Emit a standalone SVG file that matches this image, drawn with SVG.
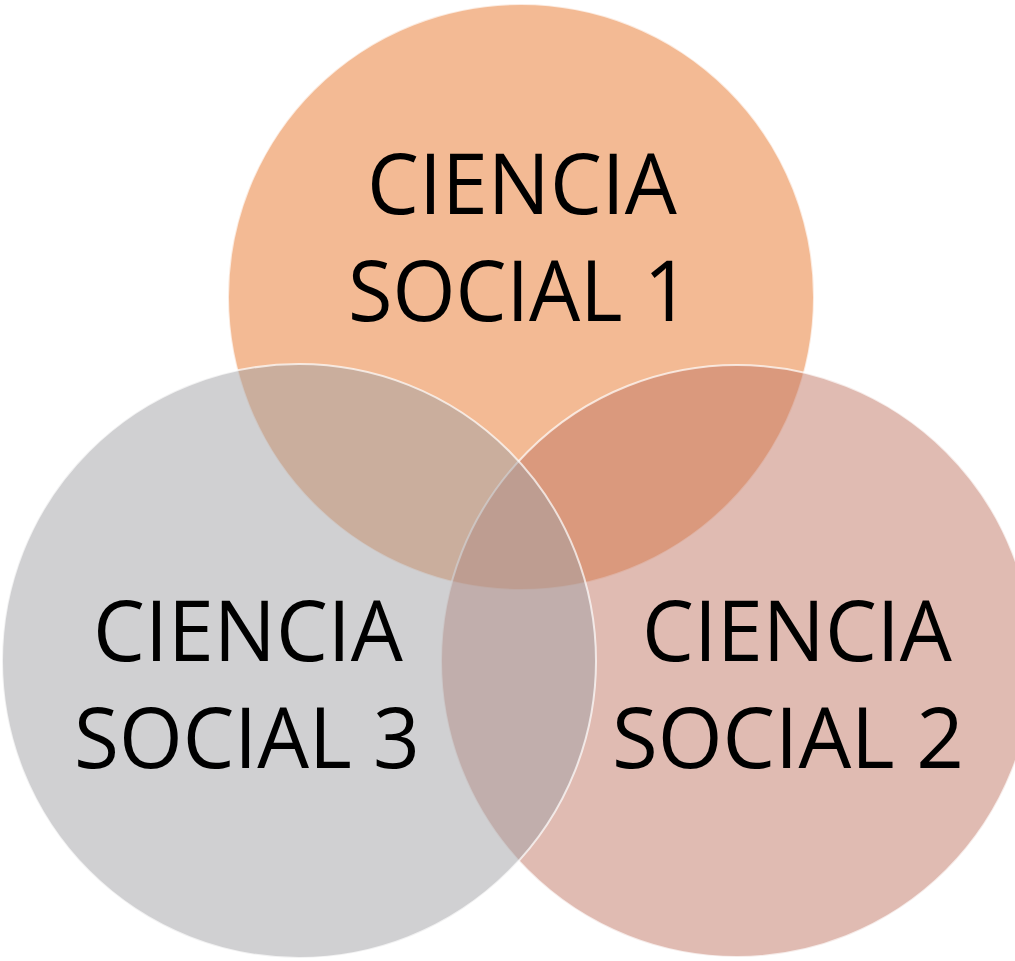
<svg xmlns="http://www.w3.org/2000/svg" width="1015" height="961" viewBox="0 0 1015 961">
<style>
.c{stroke:#ffffff;stroke-opacity:0.7;stroke-width:2;fill-opacity:0.5}
.t{font-family:"Open Sans","Liberation Sans",sans-serif;font-size:85px;fill:#000;text-anchor:middle}
</style>
<rect width="1015" height="961" fill="#ffffff"/>
<g id="node-1">
<circle class="c" cx="521" cy="297" r="293" fill="#E77529"/>
<text class="t" x="522" y="214" textLength="310" lengthAdjust="spacingAndGlyphs">CIENCIA</text>
<text class="t" x="519" y="321" textLength="342" lengthAdjust="spacingAndGlyphs">SOCIAL 1</text>
</g>
<g id="node-2">
<circle class="c" cx="737" cy="661" r="296" fill="#C17765"/>
<text class="t" x="797" y="661" textLength="310" lengthAdjust="spacingAndGlyphs">CIENCIA</text>
<text class="t" x="788" y="768" textLength="352" lengthAdjust="spacingAndGlyphs">SOCIAL 2</text>
</g>
<g id="node-3">
<circle class="c" cx="299" cy="661" r="297" fill="#A1A1A5"/>
<text class="t" x="248" y="661" textLength="310" lengthAdjust="spacingAndGlyphs">CIENCIA</text>
<text class="t" x="247" y="768" textLength="346" lengthAdjust="spacingAndGlyphs">SOCIAL 3</text>
</g>
<g id="connectors"></g>
</svg>
